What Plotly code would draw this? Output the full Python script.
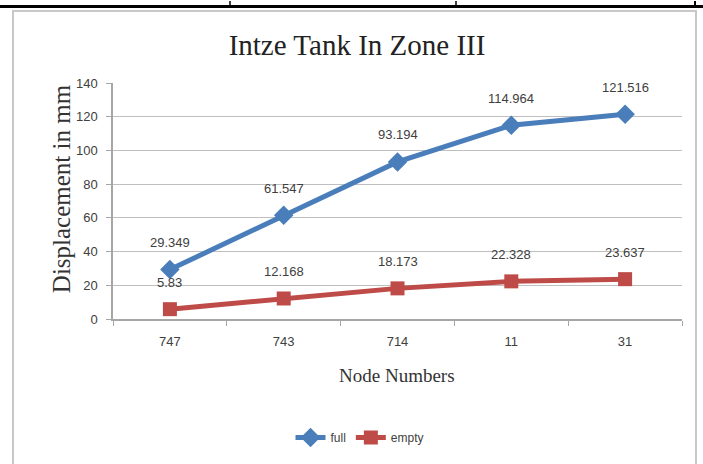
import plotly.graph_objects as go

nodes = ["747", "743", "714", "11", "31"]
full = [29.349, 61.547, 93.194, 114.964, 121.516]
empty = [5.83, 12.168, 18.173, 22.328, 23.637]
full_labels = ["29.349", "61.547", "93.194", "114.964", "121.516"]
empty_labels = ["5.83", "12.168", "18.173", "22.328", "23.637"]

BLUE = "#4A7EBB"
RED = "#BE4B48"

W, H = 703, 464
L, R, T, B = 113, 21, 83, 142
pw, ph = W - L - R, H - T - B


def px(x):
    return (x - L) / pw


def py(y):
    return (H - B - y) / ph


fig = go.Figure()
fig.add_trace(go.Scatter(
    x=nodes, y=full, name="full", mode="lines+markers",
    line=dict(color=BLUE, width=5),
    marker=dict(symbol="diamond", size=15, color=BLUE),
))
fig.add_trace(go.Scatter(
    x=nodes, y=empty, name="empty", mode="lines+markers",
    line=dict(color=RED, width=5),
    marker=dict(symbol="square", size=14, color=RED),
))

annots = []
for ys, labs in [(full, full_labels), (empty, empty_labels)]:
    for i, (y, t) in enumerate(zip(ys, labs)):
        annots.append(dict(x=i, y=y, xref="x", yref="y", text=t, showarrow=False, yshift=27,
                           font=dict(family="Liberation Sans, Arial", size=13, color="#404040")))

annots.append(dict(text="Node Numbers", xref="paper", yref="paper",
                   x=px(397), y=py(392), showarrow=False,
                   font=dict(family="Liberation Serif, Times New Roman", size=19, color="#333333")))
annots.append(dict(text="Displacement in mm", xref="paper", yref="paper",
                   x=px(46), y=py(190), showarrow=False, textangle=-90,
                   font=dict(family="Liberation Serif, Times New Roman", size=25, color="#333333")))

shapes = [
    dict(type="rect", xref="paper", yref="paper", x0=px(13), x1=px(696), y0=py(470), y1=py(10),
         line=dict(color="#C8C8C8", width=2), layer="below"),
    dict(type="line", xref="paper", yref="paper", x0=px(0), x1=px(703), y0=py(5.5), y1=py(5.5),
         line=dict(color="#000000", width=3)),
    dict(type="line", xref="paper", yref="paper", x0=px(230), x1=px(230), y0=py(0), y1=py(6),
         line=dict(color="#000000", width=1.5)),
    dict(type="line", xref="paper", yref="paper", x0=px(456), x1=px(456), y0=py(0), y1=py(6),
         line=dict(color="#000000", width=1.5)),
    dict(type="line", xref="paper", yref="paper", x0=px(695), x1=px(695), y0=py(0), y1=py(6),
         line=dict(color="#000000", width=2)),
]

fig.update_layout(
    width=W, height=H,
    margin=dict(l=L, r=R, t=T, b=B),
    paper_bgcolor="white", plot_bgcolor="white",
    title=dict(text="Intze Tank In Zone III", x=357 / W, xanchor="center",
               y=1 - 45 / H, yanchor="middle",
               font=dict(family="Liberation Serif, Times New Roman", size=29, color="#222222")),
    showlegend=True,
    legend=dict(orientation="h", x=px(360), xanchor="center", y=py(442), yanchor="middle",
                font=dict(family="Liberation Sans, Arial", size=12, color="#404040"),
                bgcolor="rgba(0,0,0,0)", itemwidth=30, tracegroupgap=0),
    annotations=annots,
    shapes=shapes,
    xaxis=dict(type="category", range=[-0.5, len(nodes) - 0.5], autorange=False,
               showgrid=False, showline=True, linecolor="#A6A6A6", linewidth=1.5,
               ticks="outside", ticklen=5, tickcolor="#A6A6A6", tickson="boundaries",
               tickfont=dict(family="Liberation Sans, Arial", size=13, color="#404040"),
               ticklabelstandoff=10, zeroline=False),
    yaxis=dict(range=[0, 140], dtick=20, showgrid=True, gridcolor="#BFBFBF", gridwidth=1,
               showline=True, linecolor="#A6A6A6", linewidth=1.5,
               ticks="outside", ticklen=5, tickcolor="#A6A6A6",
               tickfont=dict(family="Liberation Sans, Arial", size=13, color="#404040"),
               ticklabelstandoff=6, zeroline=False),
)

fig.write_html("out.html", config={"displayModeBar": False},
               post_script="document.body.style.margin='0';document.body.style.overflow='hidden';")
